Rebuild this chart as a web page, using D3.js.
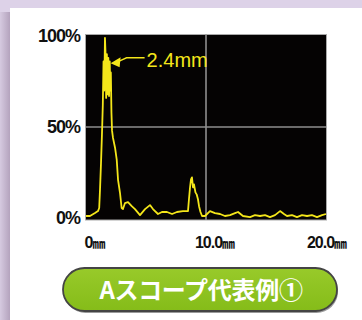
<!DOCTYPE html>
<html>
<head>
<meta charset="utf-8">
<script src="https://cdn.jsdelivr.net/npm/d3@7"></script>
<style>
  html, body { margin: 0; padding: 0; background: #ddd2e8; }
  svg { display: block; }
</style>
</head>
<body>
<div id="chart"></div>
<script>
// Datos del eco (A-scope): posición en mm y amplitud en %
const echoMm = [0.00, 0.33, 0.75, 1.00, 1.10, 1.17, 1.25, 1.33, 1.40, 1.46, 1.52, 1.58, 1.62, 1.68, 1.74, 1.80, 1.86, 1.92, 1.98,
  2.02, 2.07, 2.12, 2.17, 2.25, 2.42, 2.56, 2.67, 2.83, 2.97, 3.08, 3.25, 3.50, 3.81, 4.08, 4.50, 4.92, 5.33, 5.58, 6.00, 6.33,
  6.75, 7.17, 7.58, 8.08, 8.50, 8.58, 8.67, 8.75, 8.83, 8.92, 9.00, 9.12, 9.22, 9.33, 9.42, 9.54, 9.67, 9.92, 10.33, 10.75,
  11.17, 11.58, 12.00, 12.42, 12.67, 13.08, 13.67, 14.08, 14.50, 14.92, 15.33, 15.75, 16.17, 16.50, 16.75, 17.17, 17.58, 18.00,
  18.42, 18.83, 19.25, 19.67, 20.00];
const echoPct = [1.1, 1.1, 2.7, 3.8, 5.5, 16, 30, 46, 62, 86, 70, 99, 92, 66, 90, 68, 88, 67, 86,
  70, 80, 58, 48, 44, 38.6, 32.1, 21, 14, 5.5, 4.9, 8.2, 8.7, 6.5, 4.9, 1.6, 4.9, 7.1, 4.9, 2.2, 3.3,
  3.3, 2.2, 3.3, 3.8, 3.8, 10.3, 16.8, 21.2, 22.3, 16.8, 18.5, 14.1, 13, 10.3, 6.5, 3.3, 1.1, 1.1, 3.8, 2.7,
  2.2, 1.1, 1.6, 2.7, 3.3, 1.1, 0.5, 1.6, 1.1, 1.6, 0.5, 1.6, 3.8, 2.2, 1.1, 1.6, 0.5, 1.6,
  1.1, 1.6, 0.5, 1.6, 2.2];

const yTicks = [0, 50, 100];
const yLabels = ["0%", "50%", "100%"];
const xTicks = [0, 10, 20];
const xNumbers = ["0", "10.0", "20.0"];
const xUnit = "㎜";

const peakText = "2.4mm";
const peakPoint = [2.05, 85];
const caption = "Aスコープ代表例①";

const width = 362;
const height = 320;

const svg = d3.select("#chart")
  .append("svg")
  .attr("width", width)
  .attr("height", height)
  .attr("viewBox", [0, 0, width, height]);

const defs = svg.append("defs");
const shadow = defs.append("linearGradient").attr("id", "sombra");
shadow.append("stop").attr("offset", "0%").attr("stop-color", "#d6cae0");
shadow.append("stop").attr("offset", "100%").attr("stop-color", "#b4a3bd");
const pill = defs.append("linearGradient").attr("id", "verde")
  .attr("x1", 0).attr("x2", 0).attr("y1", 0).attr("y2", 1);
pill.append("stop").attr("offset", "0%").attr("stop-color", "#98ca2a");
pill.append("stop").attr("offset", "100%").attr("stop-color", "#85bc19");

// Fondo: sombra lateral y panel blanco
svg.append("rect").attr("x", 0).attr("y", 12).attr("width", 10).attr("height", height)
  .attr("fill", "url(#sombra)");
svg.append("rect").attr("x", 10).attr("y", 8).attr("width", width - 10).attr("height", height - 8)
  .attr("fill", "#ffffff");

// Escalas
const x = d3.scaleLinear().domain([0, 20]).range([86, 326]);
const y = d3.scaleLinear().domain([0, 100]).range([218, 36]);

// Área del osciloscopio
svg.append("rect")
  .attr("x", x(0) - 0.5)
  .attr("y", y(100) - 1.5)
  .attr("width", x(20) - x(0) + 1)
  .attr("height", y(0) - y(100) + 3.5)
  .attr("fill", "#050303")
  .attr("stroke", "#a9a9a9")
  .attr("stroke-width", 1);

// Rejilla
svg.append("line")
  .attr("x1", x(10)).attr("x2", x(10))
  .attr("y1", y(100) - 1.5).attr("y2", y(0) + 2)
  .attr("stroke", "#8e8e8e").attr("stroke-width", 1.6);
svg.append("line")
  .attr("x1", x(0)).attr("x2", x(20))
  .attr("y1", y(50)).attr("y2", y(50))
  .attr("stroke", "#8e8e8e").attr("stroke-width", 1.6);

// Traza del eco
const line = d3.line()
  .x((d, i) => x(echoMm[i]))
  .y(d => y(d));

svg.append("path")
  .datum(echoPct)
  .attr("fill", "none")
  .attr("stroke", "#f4e61a")
  .attr("stroke-width", 1.8)
  .attr("stroke-linejoin", "round")
  .attr("d", line);

// Anotación del pico
const tipX = x(peakPoint[0]);
const tipY = y(peakPoint[1]);
svg.append("path")
  .attr("d", `M${tipX},${tipY} L${tipX + 10},${tipY - 6} L${tipX + 9},${tipY + 4} Z`)
  .attr("fill", "#f4e61a");
svg.append("path")
  .attr("d", `M${tipX + 8},${tipY - 2} L${tipX + 16},${tipY - 5.5} L${tipX + 34},${tipY - 5.5}`)
  .attr("fill", "none")
  .attr("stroke", "#f4e61a")
  .attr("stroke-width", 1.4);
svg.append("text")
  .attr("x", tipX + 36)
  .attr("y", tipY + 4)
  .attr("font-family", "Liberation Sans, Arial, sans-serif")
  .attr("font-size", 20)
  .attr("fill", "#f4e61a")
  .text(peakText);

// Etiquetas del eje Y
svg.append("g")
  .selectAll("text")
  .data(yTicks)
  .join("text")
  .attr("x", 80)
  .attr("y", d => y(d) + 6)
  .attr("text-anchor", "end")
  .attr("font-family", "Liberation Sans, Arial, sans-serif")
  .attr("font-weight", "bold")
  .attr("font-size", 18)
  .attr("letter-spacing", -1)
  .attr("fill", "#111")
  .text((d, i) => yLabels[i]);

// Etiquetas del eje X
const xl = svg.append("g")
  .selectAll("text")
  .data(xTicks)
  .join("text")
  .attr("x", (d, i) => x(d) + (i < 2 ? 9 : 1))
  .attr("y", 248)
  .attr("text-anchor", "middle")
  .attr("font-family", "Liberation Sans, Arial, sans-serif")
  .attr("font-weight", "bold")
  .attr("font-size", 16)
  .attr("letter-spacing", -1)
  .attr("fill", "#111");
xl.append("tspan").text((d, i) => xNumbers[i]);
xl.append("tspan")
  .attr("font-family", "Noto Sans CJK JP")
  .attr("font-size", 13)
  .attr("letter-spacing", 0)
  .text(xUnit);

// Rótulo inferior
const pillX = 63, pillY = 268, pillW = 274, pillH = 43;
svg.append("rect")
  .attr("x", pillX + 1).attr("y", pillY + 2)
  .attr("width", pillW).attr("height", pillH)
  .attr("rx", pillH / 2)
  .attr("fill", "#9a9a9a");
svg.append("rect")
  .attr("x", pillX).attr("y", pillY)
  .attr("width", pillW).attr("height", pillH)
  .attr("rx", pillH / 2)
  .attr("fill", "url(#verde)")
  .attr("stroke", "#444444")
  .attr("stroke-width", 1.8);
svg.append("text")
  .attr("x", pillX + pillW / 2 + 1)
  .attr("y", pillY + pillH / 2 + 9)
  .attr("text-anchor", "middle")
  .attr("font-family", "Noto Sans CJK JP")
  .attr("font-weight", "bold")
  .attr("font-size", 24)
  .attr("letter-spacing", -0.3)
  .attr("fill", "#ffffff")
  .text(caption);
</script>
</body>
</html>
